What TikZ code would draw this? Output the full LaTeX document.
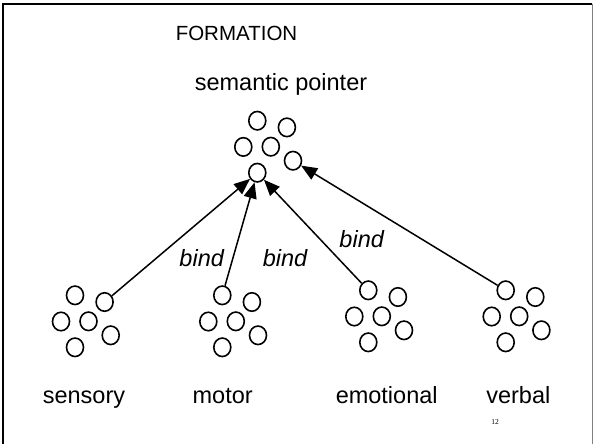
\documentclass[tikz,border=0pt]{standalone}
\usepackage{fontspec}
\setmainfont{Liberation Sans}
\newfontfamily\slidenum{Liberation Serif}
\usepackage{tikz}
\usetikzlibrary{arrows.meta,shapes.geometric,positioning}

\tikzset{
  unit/.style={draw, ellipse, line width=1.6pt, minimum width=17pt, minimum height=18.5pt, inner sep=0pt},
  bindarrow/.style={line width=1.5pt, -{Triangle[length=16pt,width=13pt]}},
  caption/.style={anchor=base, font=\fontsize{23.5}{28}\selectfont},
  bindlabel/.style={anchor=base, font=\fontsize{23.5}{28}\selectfont\itshape}
}

\begin{document}
\begin{tikzpicture}[x=1pt, y=-1pt]
\useasboundingbox (0,0) rectangle (594,444);
% slide frame
\draw[line width=2pt] (3,460) -- (3,4) -- (592,4);
\draw[gray, line width=1pt] (592,4) -- (592,460);
% titles
\node[anchor=base, font=\fontsize{20.5}{24}\selectfont] (title) at (236.5,41) {FORMATION};
\node[caption] (sptext) at (281,90) {semantic pointer};
% clusters of units, placed by their lowest unit
\foreach \name/\bx/\by in {sp/257.3/172.7, sensory/75/347.3, motor/222.3/347.3, emotional/368.3/342.3, verbal/505.7/342.3} {
  \node[unit] (\name1) at (\bx,\by-52) {};
  \node[unit] (\name2) at (\bx+29.6,\by-45.3) {};
  \node[unit] (\name3) at (\bx-14,\by-25.8) {};
  \node[unit] (\name4) at (\bx+13.5,\by-26) {};
  \node[unit] (\name5) at (\bx+35.7,\by-12) {};
  \node[unit] (\name6) at (\bx,\by) {};
}
% binding arrows
\draw[bindarrow] (sensory2) -- (sp6);
\draw[bindarrow] (motor1) -- (sp6);
\draw[bindarrow] (emotional1) -- (sp6);
\draw[bindarrow] (verbal1) -- (sp5);
\node[bindlabel] (bindA) at (201.7,266.7) {bind};
\node[bindlabel] (bindB) at (285,266.7) {bind};
\node[bindlabel] (bindC) at (361.7,247.7) {bind};
% labels of the sources
\node[caption] (sensorytext) at (84,403) {sensory};
\node[caption] (motortext) at (222.7,403) {motor};
\node[caption] (emotionaltext) at (386.7,403) {emotional};
\node[caption] (verbaltext) at (518.3,403) {verbal};
\node[anchor=base, font=\slidenum\fontsize{7.5}{9}\selectfont] (pagenum) at (495,424) {12};
\end{tikzpicture}
\end{document}
